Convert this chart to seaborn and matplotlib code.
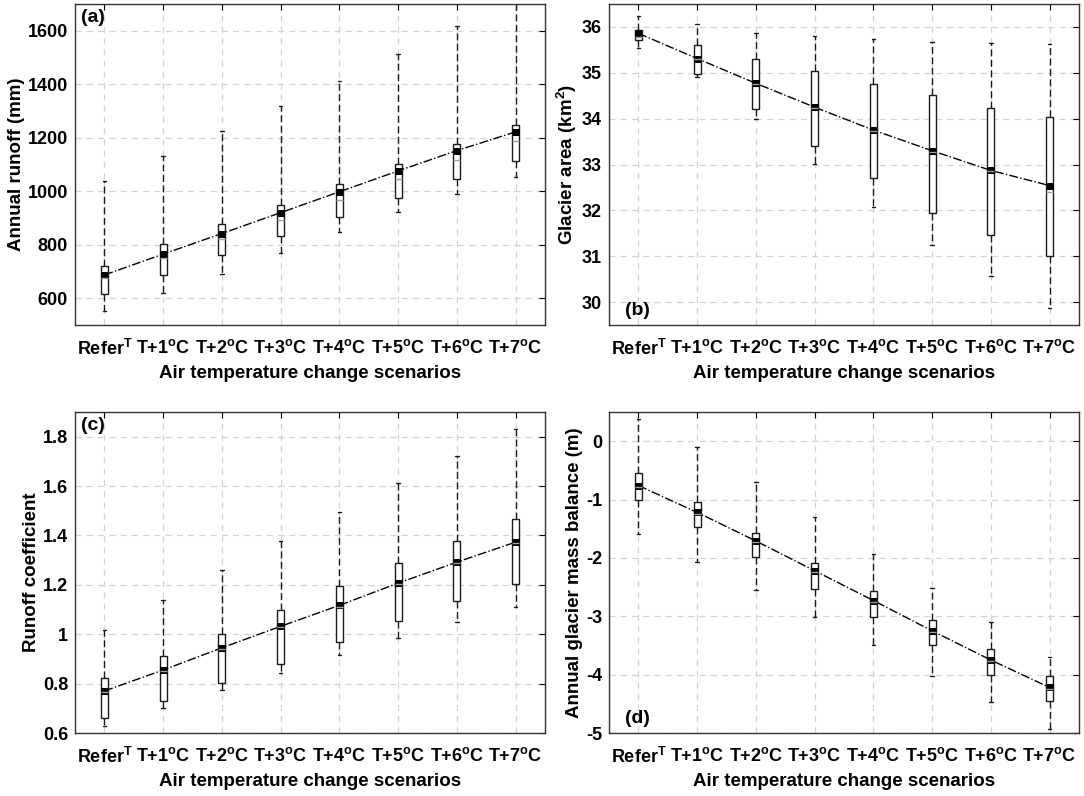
import numpy as np
import pandas as pd
import matplotlib
matplotlib.use("Agg")
import matplotlib.pyplot as plt
import seaborn as sns

sns.set_theme(style="white")
plt.rcParams["font.family"] = ["Liberation Sans", "DejaVu Sans"]
plt.rcParams["font.weight"] = "bold"
plt.rcParams["axes.labelweight"] = "bold"
plt.rcParams["mathtext.fontset"] = "custom"
plt.rcParams["mathtext.rm"] = "Liberation Sans:bold"
plt.rcParams["mathtext.bf"] = "Liberation Sans:bold"
plt.rcParams["mathtext.it"] = "Liberation Sans:bold"
plt.rcParams["axes.unicode_minus"] = False
plt.rcParams["text.color"] = "black"
plt.rcParams["axes.labelcolor"] = "black"
plt.rcParams["xtick.color"] = "black"
plt.rcParams["ytick.color"] = "black"

scenarios = ["Refer$^{\\mathbf{T}}$", "T+1$^{\\mathbf{o}}$C", "T+2$^{\\mathbf{o}}$C",
             "T+3$^{\\mathbf{o}}$C", "T+4$^{\\mathbf{o}}$C", "T+5$^{\\mathbf{o}}$C",
             "T+6$^{\\mathbf{o}}$C", "T+7$^{\\mathbf{o}}$C"]

# (a) Annual runoff (mm)
runoff_low = [554, 619, 691, 768, 846, 922, 988, 1053]
runoff_q1 = [616, 687, 761, 834, 902, 976, 1045, 1113]
runoff_med = [675, 749, 820, 892, 969, 1045, 1118, 1186]
runoff_q3 = [722, 803, 877, 950, 1027, 1103, 1175, 1246]
runoff_high = [1037, 1130, 1225, 1319, 1414, 1513, 1619, 1740]
runoff_mean = [687, 765, 842, 920, 998, 1076, 1152, 1222]

# (b) Glacier area (km2)
area_low = [35.54, 34.91, 33.99, 33.01, 32.07, 31.25, 30.57, 29.88]
area_q1 = [35.72, 34.97, 34.20, 33.41, 32.71, 31.94, 31.46, 31.00]
area_med = [35.78, 35.30, 34.76, 34.23, 33.73, 33.28, 32.85, 32.39]
area_q3 = [35.93, 35.60, 35.30, 35.04, 34.75, 34.51, 34.24, 34.04]
area_high = [36.24, 36.07, 35.87, 35.80, 35.73, 35.67, 35.64, 35.62]
area_mean = [35.86, 35.31, 34.77, 34.25, 33.75, 33.30, 32.87, 32.54]

# (c) Runoff coefficient
coef_low = [0.628, 0.702, 0.774, 0.844, 0.915, 0.985, 1.050, 1.110]
coef_q1 = [0.662, 0.729, 0.801, 0.881, 0.968, 1.053, 1.133, 1.203]
coef_med = [0.765, 0.850, 0.940, 1.028, 1.112, 1.202, 1.288, 1.368]
coef_q3 = [0.824, 0.911, 1.001, 1.097, 1.194, 1.288, 1.376, 1.467]
coef_high = [1.016, 1.140, 1.261, 1.376, 1.493, 1.611, 1.722, 1.830]
coef_mean = [0.770, 0.855, 0.945, 1.032, 1.117, 1.207, 1.292, 1.373]

# (d) Annual glacier mass balance (m)
mb_low = [-1.59, -2.07, -2.55, -3.01, -3.50, -4.02, -4.47, -4.93]
mb_q1 = [-1.00, -1.47, -1.99, -2.53, -3.02, -3.50, -4.00, -4.45]
mb_med = [-0.78, -1.24, -1.73, -2.24, -2.75, -3.27, -3.77, -4.24]
mb_q3 = [-0.54, -1.05, -1.57, -2.09, -2.57, -3.07, -3.56, -4.03]
mb_high = [0.38, -0.10, -0.70, -1.30, -1.93, -2.52, -3.09, -3.69]
mb_mean = [-0.76, -1.22, -1.71, -2.22, -2.73, -3.25, -3.75, -4.22]

panels = [
    dict(label="(a)", ylabel="Annual runoff (mm)", stats=(runoff_low, runoff_q1, runoff_med, runoff_q3, runoff_high),
         mean=runoff_mean, ylim=(500, 1700), yticks=[600, 800, 1000, 1200, 1400, 1600], tag_top=True),
    dict(label="(b)", ylabel="Glacier area (km$^{\\mathbf{2}}$)", stats=(area_low, area_q1, area_med, area_q3, area_high),
         mean=area_mean, ylim=(29.5, 36.5), yticks=[30, 31, 32, 33, 34, 35, 36], tag_top=False),
    dict(label="(c)", ylabel="Runoff coefficient", stats=(coef_low, coef_q1, coef_med, coef_q3, coef_high),
         mean=coef_mean, ylim=(0.6, 1.9), yticks=[0.6, 0.8, 1.0, 1.2, 1.4, 1.6, 1.8], tag_top=True),
    dict(label="(d)", ylabel="Annual glacier mass balance (m)", stats=(mb_low, mb_q1, mb_med, mb_q3, mb_high),
         mean=mb_mean, ylim=(-5, 0.5), yticks=[-5, -4, -3, -2, -1, 0], tag_top=False),
]

W, H = 1084, 796
fig = plt.figure(figsize=(W / 100, H / 100), dpi=100)
rects = [(75, 4), (609, 4), (75, 412), (609, 412)]
aw, ah = 470, 321

for p, (lx, ty) in zip(panels, rects):
    ax = fig.add_axes([lx / W, 1 - (ty + ah) / H, aw / W, ah / H])
    rows = []
    for i, s in enumerate(scenarios):
        for arr in p["stats"]:
            rows.append((s, arr[i]))
    df = pd.DataFrame(rows, columns=["scenario", "value"])
    ax.grid(True, color="#d4d4d4", linestyle=(0, (5, 4)), linewidth=0.9, zorder=0)
    ax.set_axisbelow(True)
    sns.boxplot(data=df, x="scenario", y="value", order=scenarios, whis=(0, 100),
                width=0.12, color="white", linecolor="#1a1a1a", linewidth=1.0,
                whiskerprops=dict(linestyle=(0, (5, 2.5)), color="#1a1a1a", linewidth=1.0),
                boxprops=dict(edgecolor="#1a1a1a", facecolor="white", linewidth=1.0),
                capprops=dict(color="#1a1a1a", linewidth=1.0),
                medianprops=dict(color="#a0a0a0", linewidth=1.0),
                showfliers=False, ax=ax)
    sns.pointplot(x=scenarios, y=p["mean"], order=scenarios, color="black",
                  marker="s", markersize=5, linestyle="-.", linewidth=1.0,
                  errorbar=None, ax=ax)
    ax.set_xlim(-0.5, 7.5)
    ax.set_ylim(*p["ylim"])
    ax.set_yticks(p["yticks"])
    ax.yaxis.set_major_formatter(matplotlib.ticker.FormatStrFormatter("%g"))
    ax.tick_params(direction="in", top=True, right=True, length=4, width=0.8,
                   labelsize=13, colors="black")
    ax.tick_params(axis="x", pad=10)
    ax.tick_params(axis="y", pad=5)
    for lab in ax.get_xticklabels() + ax.get_yticklabels():
        lab.set_fontweight("bold")
        lab.set_color("black")
    for sp in ax.spines.values():
        sp.set_color("#333333")
        sp.set_linewidth(1.0)
        sp.set_visible(True)
    ax.set_xlabel("Air temperature change scenarios", fontsize=13.5, fontweight="bold",
                  labelpad=4, color="black")
    ax.set_ylabel(p["ylabel"], fontsize=13.5, fontweight="bold", labelpad=2, color="black")
    ax.grid(True, color="#d4d4d4", linestyle=(0, (5, 4)), linewidth=0.9)
    if p["tag_top"]:
        ax.text(0.012, 0.985, p["label"], transform=ax.transAxes, ha="left", va="top",
                fontsize=14, fontweight="bold", color="black")
    else:
        ax.text(0.035, 0.02, p["label"], transform=ax.transAxes, ha="left", va="bottom",
                fontsize=14, fontweight="bold", color="black")

fig.savefig("out.png", dpi=100)
